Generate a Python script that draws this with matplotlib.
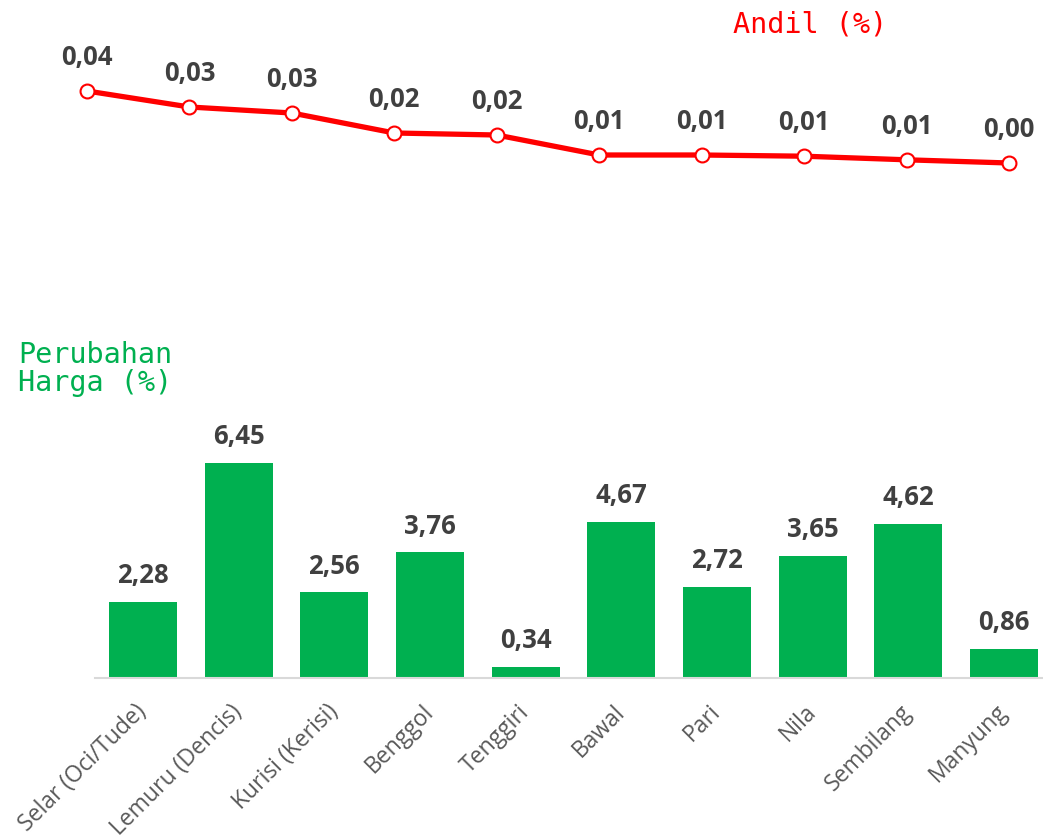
import matplotlib
matplotlib.use("Agg")
import matplotlib.pyplot as plt

categories = ["Selar (Oci/Tude)", "Lemuru (Dencis)", "Kurisi (Kerisi)", "Benggol",
              "Tenggiri", "Bawal", "Pari", "Nila", "Sembilang", "Manyung"]
perubahan_harga = [2.28, 6.45, 2.56, 3.76, 0.34, 4.67, 2.72, 3.65, 4.62, 0.86]
andil = [0.040, 0.032, 0.029, 0.019, 0.018, 0.008, 0.008, 0.0074, 0.0056, 0.004]

W, H = 1043, 839
fig = plt.figure(figsize=(W / 100, H / 100), dpi=100)

def px_axes(left, top, right, bottom):
    return fig.add_axes([left / W, 1 - bottom / H, (right - left) / W, (bottom - top) / H])

label_color = "#404040"
tick_color = "#595959"
font = "Open Sans"

# ---- line chart (Andil) ----
axl = px_axes(87, 71, 1009, 171)
x = list(range(len(categories)))
axl.plot(x, andil, color="#FF0000", lw=3.8, marker="o", ms=10,
         markerfacecolor="white", markeredgecolor="#FF0000", mew=1.5, zorder=3,
         clip_on=False)
axl.set_xlim(0, len(categories) - 1)
axl.set_ylim(0, 0.05)
axl.axis("off")
for xi, v in zip(x, andil):
    axl.annotate(f"{v:.2f}".replace(".", ","), (xi, v), xytext=(0, 24),
                 textcoords="offset points", ha="center", va="center",
                 fontsize=18.5, fontweight="bold", color=label_color, family=font)
fig.text(810 / W, 1 - 24 / H, "Andil (%)", color="#FF0000", fontsize=20.5,
         family="DejaVu Sans Mono", ha="center", va="center")

# ---- bar chart (Perubahan Harga) ----
axb = px_axes(95.2, 678 - 7 * 33.4, 1051.9, 678)
axb.bar(x, perubahan_harga, width=0.71, color="#00B050", zorder=2)
axb.set_xlim(-0.5, len(categories) - 0.5)
axb.set_ylim(0, 7)
for s in ["top", "right", "left"]:
    axb.spines[s].set_visible(False)
axb.spines["bottom"].set_color("#D9D9D9")
axb.spines["bottom"].set_linewidth(1.5)
axb.set_yticks([])
axb.set_xticks(x)
axb.set_xticklabels(categories, rotation=45, ha="right", va="center",
                    rotation_mode="anchor",
                    fontsize=16.5, color=tick_color, family=font)
axb.tick_params(axis="x", length=0, pad=22)
for xi, v in zip(x, perubahan_harga):
    axb.annotate(f"{v:.2f}".replace(".", ","), (xi, v), xytext=(0, 19),
                 textcoords="offset points", ha="center", va="center",
                 fontsize=18.5, fontweight="bold", color=label_color, family=font)
fig.text(18 / W, 1 - 369 / H, "Perubahan\nHarga (%)", color="#00B050", fontsize=20.5,
         family="DejaVu Sans Mono", ha="left", va="center", linespacing=1.0)

fig.savefig("out.png", dpi=100)
